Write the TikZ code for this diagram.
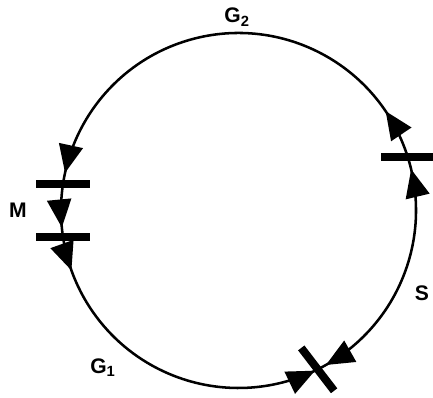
\documentclass[tikz,border=0pt]{standalone}
\usepackage{fontspec}
\setmainfont{Liberation Sans}
\usetikzlibrary{arrows.meta,decorations.markings}

\newcommand{\ringrad}{177.5}

\begin{document}
\begin{tikzpicture}[
    x=0.025cm, y=0.025cm,
    ring/.style={line width=1.8pt},
    bar/.style={fill=black, inner sep=0pt, minimum width=1.35cm, minimum height=0.2cm},
    tipat/.style={postaction={decorate, decoration={markings, mark=at position #1 with {\arrow{Triangle[length=7mm, width=6mm]}}}}},
    tipback/.style={postaction={decorate, decoration={markings, mark=at position #1 with {\arrowreversed{Triangle[length=7mm, width=6mm]}}}}},
    label/.style={font=\fontsize{15}{17}\selectfont\bfseries}
]
\useasboundingbox (0,0) rectangle (433,397);
\coordinate (O) at (238.5,186.5);

% Mirrors on the ring
\node[bar] (rbar) at ([shift={(17.4:\ringrad)}]O) {};
\node[bar] (mtop) at ([shift={(171.3:\ringrad)}]O) {};
\node[bar] (mbot) at ([shift={(188.6:\ringrad)}]O) {};
\node[bar, rotate=-52.5] (tbar) at ([shift={(296.5:\ringrad)}]O) {};

% Ring segments
\draw[ring, tipat=0.108, tipat=0.977] (rbar.center) arc[start angle=17.4, end angle=171.3, radius=\ringrad];
\draw[ring, tipat=0.82] (mtop.center) arc[start angle=171.3, end angle=188.6, radius=\ringrad];
\draw[ring, tipat=0.103, tipat=0.991] (mbot.center) arc[start angle=188.6, end angle=296.5, radius=\ringrad];
\draw[ring, tipback=0.037, tipat=0.951] (tbar.center) arc[start angle=296.5, end angle=377.4, radius=\ringrad];

% Labels
\node[label] (g2) at (237,380) {G\textsubscript{2}};
\node[label] (m) at (18,187) {M};
\node[label] (s) at (422,104) {S};
\node[label] (g1) at (103,29) {G\textsubscript{1}};
\end{tikzpicture}
\end{document}
